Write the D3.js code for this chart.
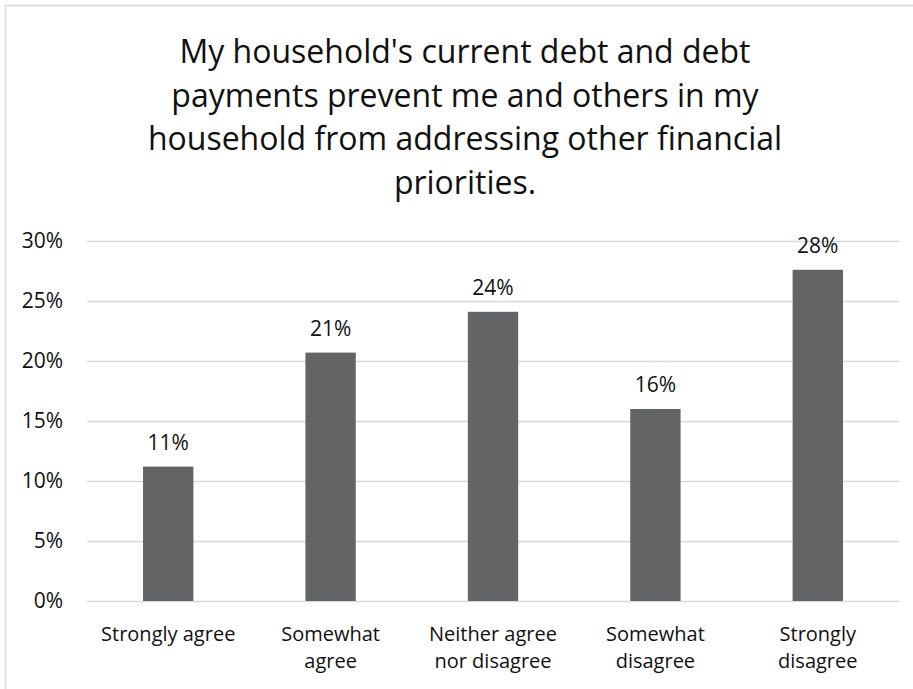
<!DOCTYPE html>
<html>
<head>
<meta charset="utf-8">
<script src="https://cdn.jsdelivr.net/npm/d3@7"></script>
<style>
  html, body { margin: 0; padding: 0; background: #fff; }
  svg { display: block; }
  text { font-family: "Open Sans", Calibri, Carlito, sans-serif; fill: #111; }
</style>
</head>
<body>
<svg id="chart" width="913" height="689"></svg>
<script>
// Survey responses (share of respondents)
const categories = ["Strongly agree", "Somewhat\nagree", "Neither agree\nnor disagree", "Somewhat\ndisagree", "Strongly\ndisagree"];
const values = [0.112, 0.207, 0.241, 0.160, 0.276];
const yTicks = [0, 0.05, 0.10, 0.15, 0.20, 0.25, 0.30];
const titleLines = [
  "My household's current debt and debt",
  "payments prevent me and others in my",
  "household from addressing other financial",
  "priorities."
];

const W = 913, H = 689;
const margin = { top: 241, right: 14, bottom: 88, left: 87 };
const fontStack = "'Open Sans', Calibri, Carlito, sans-serif";
const svg = d3.select("#chart");

// chart border
svg.append("rect")
  .attr("x", 5.5).attr("y", 5.5)
  .attr("width", W).attr("height", H)
  .attr("fill", "#fff")
  .attr("stroke", "#d9d9d9")
  .attr("stroke-width", 1.5);

const x = d3.scaleBand()
  .domain(categories)
  .range([margin.left, W - margin.right])
  .paddingInner(0.69)
  .paddingOuter(0.345);

const y = d3.scaleLinear()
  .domain([0, 0.30])
  .range([H - margin.bottom, margin.top]);

// gridlines
svg.append("g")
  .selectAll("line")
  .data(yTicks)
  .join("line")
  .attr("x1", margin.left).attr("x2", W - margin.right)
  .attr("y1", d => Math.round(y(d)) + 0.5)
  .attr("y2", d => Math.round(y(d)) + 0.5)
  .attr("stroke", "#d9d9d9")
  .attr("stroke-width", 1.5);

// y axis labels
const yAxis = d3.axisLeft(y)
  .tickValues(yTicks)
  .tickFormat(d3.format(".0%"))
  .tickSize(0)
  .tickPadding(24);
const gy = svg.append("g")
  .attr("transform", `translate(${margin.left},0)`)
  .call(yAxis);
gy.select(".domain").remove();
gy.selectAll("text")
  .attr("font-size", 21)
  .style("font-family", fontStack)
  .attr("fill", "#111");

// bars
svg.append("g")
  .selectAll("rect")
  .data(values)
  .join("rect")
  .attr("x", (d, i) => x(categories[i]))
  .attr("width", x.bandwidth())
  .attr("y", d => y(d))
  .attr("height", d => y(0) - y(d))
  .attr("fill", "#636466");

// value labels
svg.append("g")
  .selectAll("text")
  .data(values)
  .join("text")
  .attr("x", (d, i) => x(categories[i]) + x.bandwidth() / 2)
  .attr("y", d => y(d) - 17)
  .attr("text-anchor", "middle")
  .attr("font-size", 21)
  .text(d3.format(".0%"));

// category labels (wrapped, one text per line)
const xAxis = d3.axisBottom(x).tickSize(0).tickFormat("");
const gx = svg.append("g")
  .attr("transform", `translate(0,${H - margin.bottom})`)
  .call(xAxis);
gx.select(".domain").remove();
gx.selectAll(".tick").each(function(d) {
  const tick = d3.select(this);
  d.split("\n").forEach((line, k) => {
    tick.append("text")
      .attr("text-anchor", "middle")
      .attr("font-size", 20)
      .style("font-family", fontStack)
      .attr("fill", "#111")
      .attr("x", 0)
      .attr("y", 39.5 + k * 27.5)
      .text(line);
  });
});

// title
svg.append("text")
  .attr("text-anchor", "middle")
  .attr("font-size", 32)
  .selectAll("tspan")
  .data(titleLines)
  .join("tspan")
  .attr("x", 465)
  .attr("y", (d, i) => 63 + i * 43.5)
  .text(d => d);
</script>
</body>
</html>
